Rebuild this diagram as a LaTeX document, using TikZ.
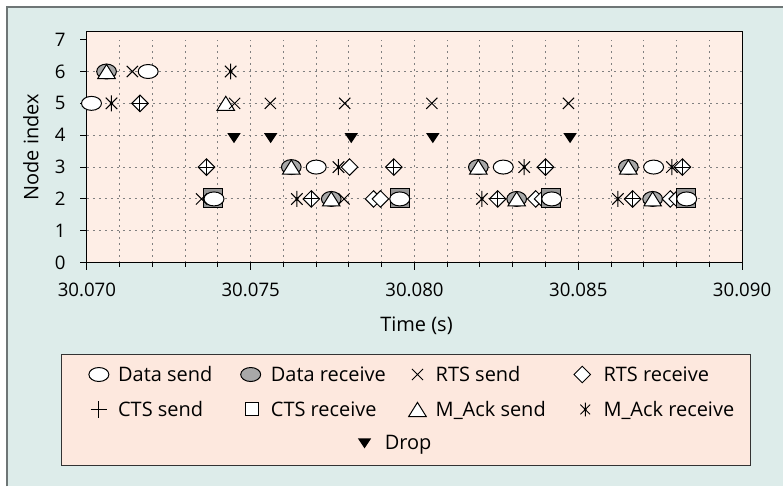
\documentclass[tikz,border=0pt]{standalone}
\usepackage{fontspec}
\setmainfont{Open Sans}
\usepackage{tikz}

\definecolor{framebg}{RGB}{221,236,234}
\definecolor{plotbg}{RGB}{254,238,230}
\definecolor{legbg}{RGB}{253,232,222}
\definecolor{markgray}{RGB}{168,168,168}
\definecolor{boxgray}{RGB}{150,150,150}
\definecolor{gridgray}{RGB}{128,128,128}
\definecolor{framegray}{RGB}{110,118,118}

\begin{document}
\begin{tikzpicture}
  [x=0.75pt,y=0.75pt,line join=miter,
	mk/.style={draw=black,line width=0.75pt},
	grid line/.style={gridgray,line width=0.75pt,dash pattern=on 1.5pt off 3pt},
	tick label/.style={font=\fontsize{14}{16}\selectfont,inner sep=0},
	title label/.style={font=\fontsize{15}{18}\selectfont,inner sep=0,anchor=base},
	leg text/.style={font=\fontsize{15}{18}\selectfont,inner sep=0,anchor=base west},
	data send/.pic={\draw[mk,fill=white] (0,0) ellipse (7.5pt and 5.25pt);},
	data recv/.pic={\draw[mk,fill=markgray] (0,0) ellipse (7.4pt and 5.6pt);},
	rts send/.pic={\draw[mk] (-4.2pt,-4.2pt) -- (4.2pt,4.2pt) (-4.2pt,4.2pt) -- (4.2pt,-4.2pt);},
	rts recv/.pic={\draw[mk,fill=white] (-6.2pt,0) -- (0,6.2pt) -- (6.2pt,0) -- (0,-6.2pt) -- cycle;},
	cts send/.pic={\draw[mk] (-6.2pt,0) -- (6.2pt,0) (0,-6.2pt) -- (0,6.2pt);},
	cts recv/.pic={\draw[mk,fill=boxgray] (-7.1pt,-6.1pt) rectangle (7.1pt,8.1pt);},
	mack send/.pic={\draw[mk,fill=white] (-6.6pt,-5.3pt) -- (6.6pt,-5.3pt) -- (0,5.3pt) -- cycle;},
	mack recv/.pic={\draw[mk] (0,-6pt) -- (0,6pt) (-4.3pt,-4.3pt) -- (4.3pt,4.3pt)
	  (-4.3pt,4.3pt) -- (4.3pt,-4.3pt); \fill (0,0) circle (1.3pt);},
	drop/.pic={\fill (-5pt,1.5pt) -- (5pt,1.5pt) -- (0,-6pt) -- cycle;}]

  % page and frame
  \fill[white] (0,0) rectangle (784,487);
  \fill[framebg] (7,0) rectangle (784,480);
  \draw[framegray,line width=1.5pt] (7,0) -- (7,480) -- (784,480);

  % plot area, time in ms after 30.070 s
  \begin{scope}[shift={(87,224)},x=24.6pt,y=23.925pt]
    \fill[plotbg] (0,0) rectangle (20,7.24);
    \foreach \t in {1,...,19}
      \draw[grid line] (\t,0) -- (\t,7);
    \foreach \n in {1,...,6}
      \draw[grid line] (0,\n) -- (20,\n);
    \draw[line width=0.75pt] (0,0) rectangle (20,7.24);
    \foreach \t in {0,...,20}
      \draw[line width=0.75pt] (\t,0) -- ++(0,-3pt);
    \foreach \t/\lab in {0/30.070,5/30.075,10/30.080,15/30.085,20/30.090}{
      \draw[line width=0.75pt] (\t,0) -- ++(0,-5.25pt);
      \node[tick label,anchor=base] (xt\t) at ([yshift=-25.1pt]\t,0) {\lab};
    }
    \foreach \n in {0,...,7}{
      \draw[line width=0.75pt] (0,\n) -- ++(-5.25pt,0);
      \node[tick label,anchor=east] (yt\n) at ([xshift=-15.75pt]0,\n) {\n};
    }

    \foreach \t/\n in {0.6/6,6.24/3,11.95/3,16.53/3,7.46/2,13.12/2,17.27/2}
      \pic at (\t,\n) {data recv};
    \foreach \t/\n in {0.6/6,4.24/5,6.24/3,11.95/3,16.53/3,7.46/2,13.12/2,17.27/2}
      \pic at (\t,\n) {mack send};
    \foreach \t/\n in {1.62/5,3.65/3,8.02/3,9.37/3,14.0/3,18.18/3,6.85/2,12.54/2,16.66/2,
        8.75/2,8.96/2,13.70/2,13.91/2,17.81/2,18.02/2}
      \pic at (\t,\n) {rts recv};
    \foreach \t/\n in {3.86/2,9.55/2,14.17/2,18.29/2}
      \pic at (\t,\n) {cts recv};
    \foreach \t/\n in {1.87/6,0.14/5,7.0/3,12.71/3,17.3/3,3.88/2,9.55/2,14.19/2,18.31/2}
      \pic at (\t,\n) {data send};
    \foreach \t/\n in {1.39/6,4.51/5,5.6/5,7.87/5,10.53/5,14.7/5,3.5/2,7.85/2}
      \pic at (\t,\n) {rts send};
    \foreach \t/\n in {1.62/5,3.65/3,9.37/3,14.0/3,18.18/3,6.85/2,12.54/2,16.66/2}
      \pic at (\t,\n) {cts send};
    \foreach \t/\n in {4.39/6,0.75/5,7.68/3,13.35/3,17.86/3,6.41/2,12.06/2,16.21/2}
      \pic at (\t,\n) {mack recv};
    \foreach \t in {4.49,5.61,8.07,10.56,14.75}
      \pic at (\t,4) {drop};
  \end{scope}

  \node[title label,rotate=90] (ylab) at (38.5,339.5) {Node index};
  \node[title label] (xlab) at (417,155.5) {Time (s)};

  % legend
  \draw[fill=legbg,draw=black!80,line width=0.75pt] (62,21) rectangle (751,132);
  \pic at (99,112) {data send};
  \node[leg text] (lg-dsend) at (118,104.7) {Data send};
  \draw[mk,fill=markgray] (251,112) ellipse (7.5pt and 5.25pt);
  \node[leg text] (lg-drecv) at (271,104.7) {Data receive};
  \pic at (418,112) {rts send};
  \node[leg text] (lg-rsend) at (436,104.7) {RTS send};
  \pic at (583,112) {rts recv};
  \node[leg text] (lg-rrecv) at (604,104.7) {RTS receive};
  \pic at (99,77) {cts send};
  \node[leg text] (lg-csend) at (118,69.7) {CTS send};
  \draw[mk,fill=white] (245.5,70.5) rectangle (258.5,83.5);
  \node[leg text] (lg-crecv) at (271,69.7) {CTS receive};
  \pic at (418,77) {mack send};
  \node[leg text] (lg-msend) at (436,69.7) {M\_Ack send};
  \pic[scale=0.85] at (586,77) {mack recv};
  \node[leg text] (lg-mrecv) at (604,69.7) {M\_Ack receive};
  \pic at (365,46) {drop};
  \node[leg text] (lg-drop) at (385,37) {Drop};
\end{tikzpicture}
\end{document}
